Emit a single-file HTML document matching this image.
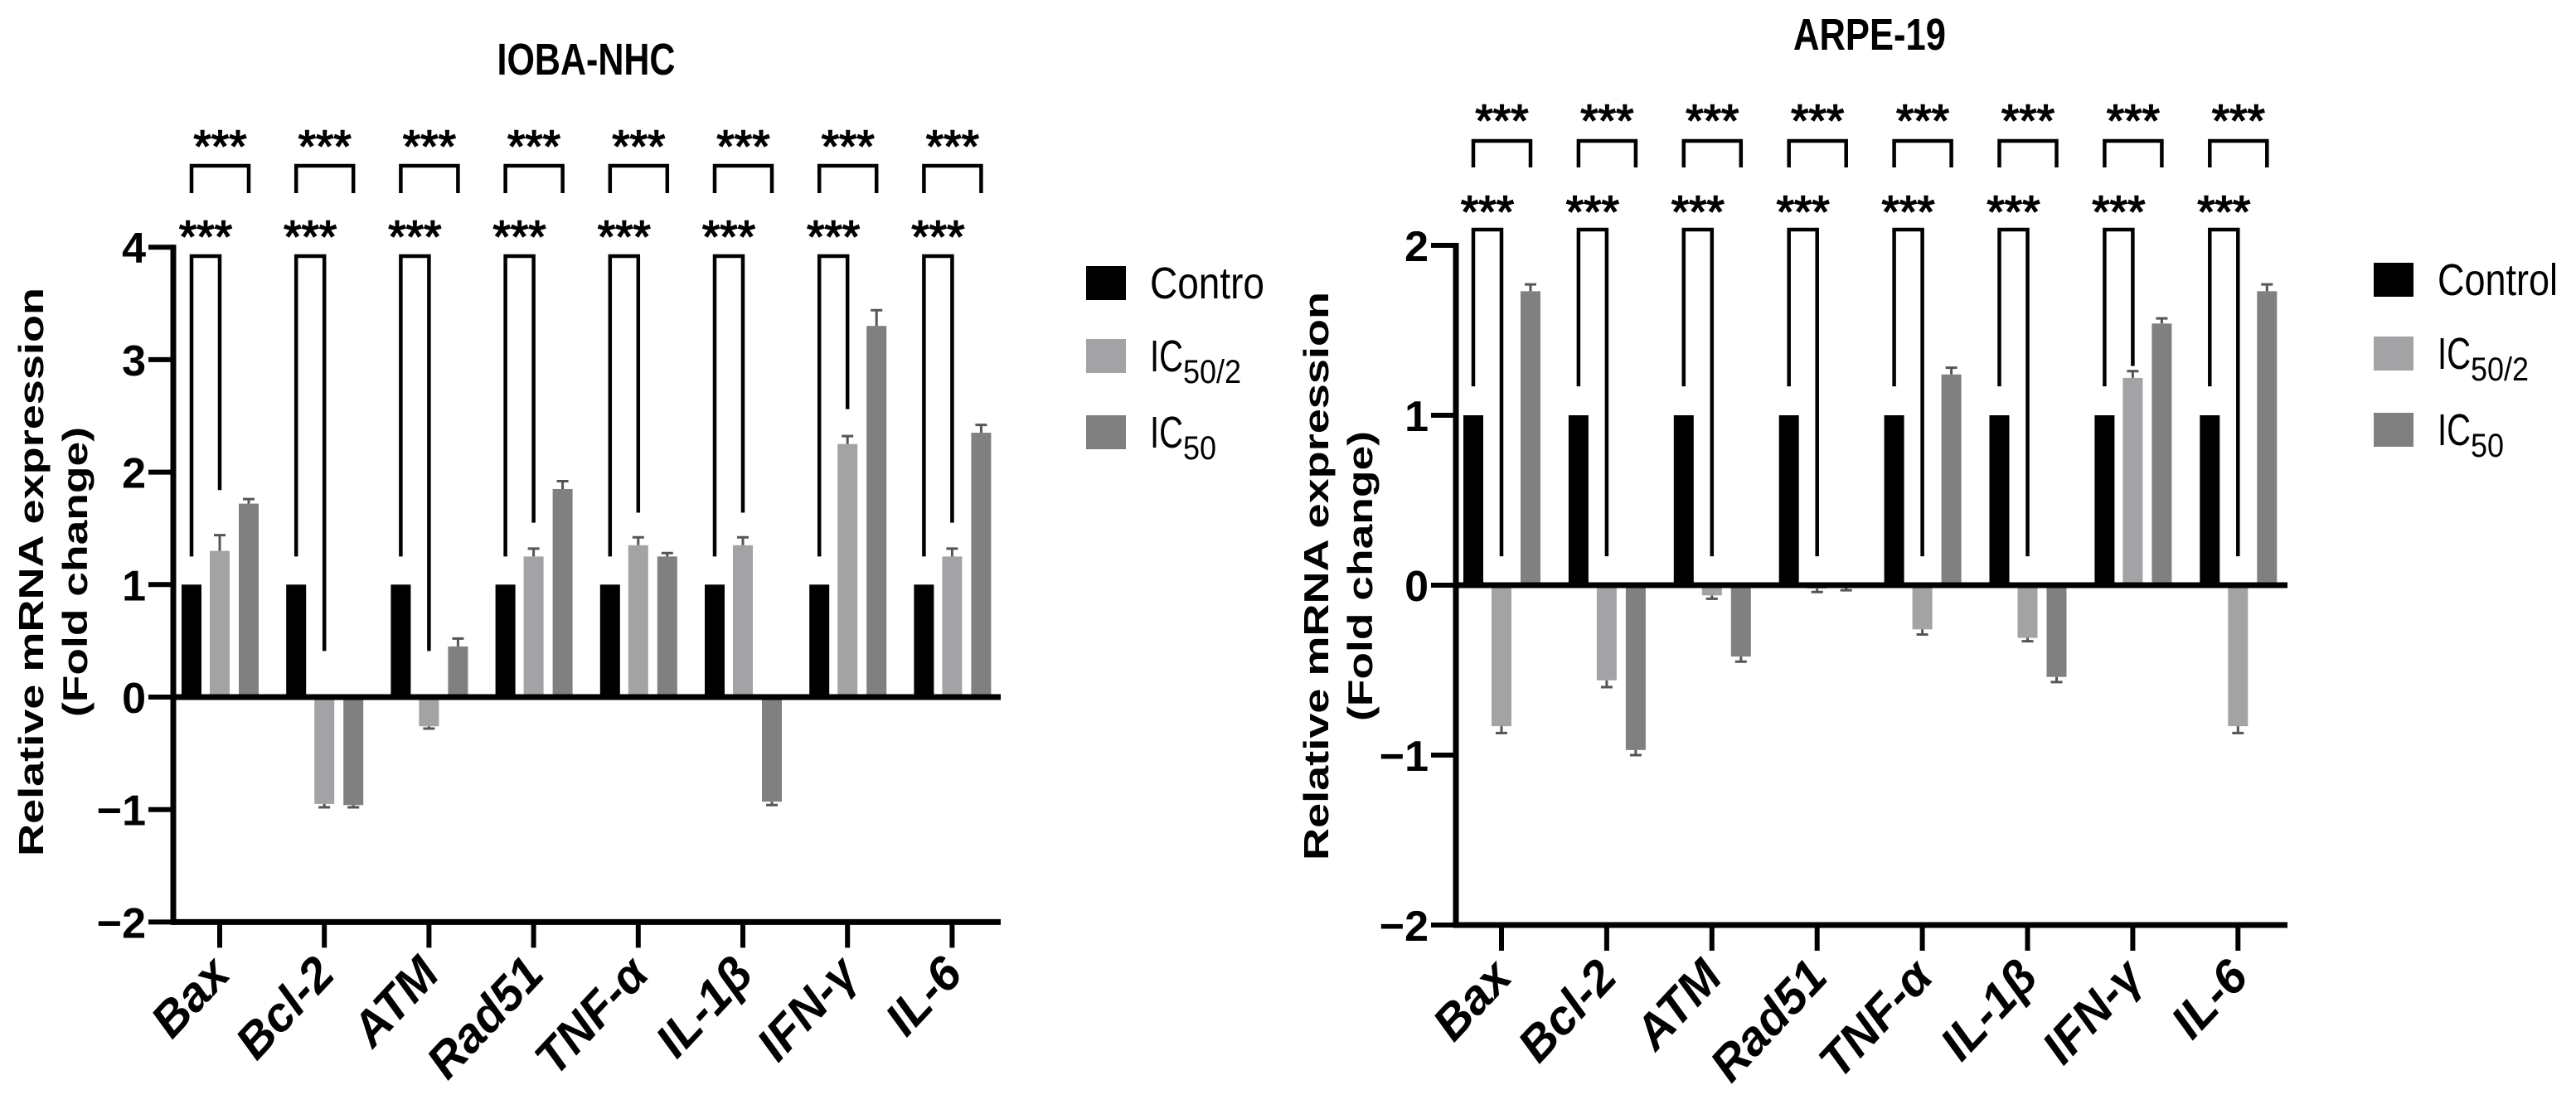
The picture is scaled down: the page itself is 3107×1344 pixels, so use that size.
<!DOCTYPE html>
<html><head><meta charset="utf-8"><style>
html,body{margin:0;padding:0;background:#fff}
svg{display:block}
text{font-family:"Liberation Sans",Arial,sans-serif}
</style></head><body>
<svg id="fig" width="3107" height="1344" viewBox="0 0 3107 1344" xmlns="http://www.w3.org/2000/svg"></svg>
<script>
const categories = ["Bax","Bcl-2","ATM","Rad51","TNF-α","IL-1β","IFN-γ","IL-6"];
const yTicksLeft = [-2,-1,0,1,2,3,4];
const yTicksRight = [-2,-1,0,1,2];
const leftControl = [1,1,1,1,1,1,1,1];
const leftIC2 = [1.30,-0.95,-0.26,1.25,1.35,1.35,2.25,1.25];
const leftIC2Err = [0.14,0.03,0.02,0.07,0.07,0.07,0.07,0.07];
const leftIC50 = [1.72,-0.96,0.45,1.85,1.25,-0.93,3.30,2.35];
const leftIC50Err = [0.04,0.02,0.07,0.07,0.03,0.03,0.14,0.07];
const leftLegEnd = [1.84,0.41,0.41,1.55,1.64,1.64,2.56,1.55];
const rightControl = [1,1,1,1,1,1,1,1];
const rightIC2 = [-0.83,-0.56,-0.06,-0.02,-0.26,-0.31,1.22,-0.83];
const rightIC2Err = [0.04,0.04,0.02,0.02,0.03,0.02,0.04,0.04];
const rightIC50 = [1.73,-0.97,-0.42,-0.01,1.24,-0.54,1.54,1.73];
const rightIC50Err = [0.04,0.03,0.03,0.02,0.04,0.03,0.03,0.04];
const rightLegEnd = [0.17,0.17,0.17,0.17,0.17,0.17,1.29,0.17];

const NS="http://www.w3.org/2000/svg";
const svg=document.getElementById('fig');
function mk(tag,attrs,parent){const e=document.createElementNS(NS,tag);for(const k in attrs)e.setAttribute(k,attrs[k]);(parent||svg).appendChild(e);return e;}
const COL=["#000000","#a3a3a6","#808080"];

function chart(cfg){
  const g=mk('g',{});
  
  
  const y=v=>cfg.y0-v*cfg.unit;
  const xc=i=>cfg.x0+i*cfg.step;
  const t=mk('text',{x:cfg.titleX,y:cfg.titleY,'text-anchor':'middle','font-size':54,'font-weight':'bold',textLength:cfg.titleW,lengthAdjust:'spacingAndGlyphs'},g);
  t.textContent=cfg.title;
  
  
  const series=[cfg.ctrl,cfg.ic2,cfg.ic50];
  const errs=[null,cfg.ic2e,cfg.ic50e];
  const offs=[-34,0,35];
  categories.forEach((c,i)=>{
    series.forEach((s,k)=>{
      const v=s[i];const bx=xc(i)+offs[k]-12;
      const r=mk('rect',{x:bx,y:Math.min(y(v),y(0)),width:24,height:Math.abs(y(v)-y(0)),fill:COL[k]},g);
      
      
      if(errs[k]){
        const e=errs[k][i];const sign=v>=0?1:-1;const ye=y(v+sign*e);
        const cx=xc(i)+offs[k];
        const l=mk('path',{d:`M${cx},${y(v)}L${cx},${ye}M${cx-7},${ye}L${cx+7},${ye}`,stroke:'#555',"stroke-width":3,fill:'none'},g);
        
        
      }
    });
    const a=xc(i)+offs[0], b=xc(i)+offs[1], d=xc(i)+offs[2];
    const top=mk('path',{d:`M${a},${cfg.topLeg}L${a},${cfg.topBr}L${d},${cfg.topBr}L${d},${cfg.topLeg}`,stroke:'#000',"stroke-width":4.5,fill:'none'},g);
    
    
    const low=mk('path',{d:`M${a},${y(cfg.leftLeg)}L${a},${cfg.lowBr}L${b},${cfg.lowBr}L${b},${y(cfg.legEnd[i])}`,stroke:'#000',"stroke-width":4.5,fill:'none'},g);
    
    
    const s1=mk('text',{x:(a+d)/2,y:cfg.topStar+29,'text-anchor':'middle','font-size':55,stroke:'#000','stroke-width':1.5},g);
    s1.textContent='***';
    
    
    const s2=mk('text',{x:(a+b)/2,y:cfg.lowStar+29,'text-anchor':'middle','font-size':55,stroke:'#000','stroke-width':1.5},g);
    s2.textContent='***';
    
    
    const tk=mk('line',{x1:xc(i),x2:xc(i),y1:y(cfg.ymin),y2:y(cfg.ymin)+31,stroke:'#000',"stroke-width":6},g);
    
    
    const lx=xc(i)+15, ly=y(cfg.ymin)+65;
    const lb=mk('text',{x:0,y:0,'text-anchor':'end','font-size':58,'font-weight':'bold','font-style':'italic',transform:`translate(${lx},${ly}) rotate(-47)`},g);
    lb.textContent=c;
    
    
  });
  const ya=mk('line',{x1:cfg.axX,x2:cfg.axX,y1:y(cfg.ymax)-3,y2:y(cfg.ymin)+3.5,stroke:'#000',"stroke-width":7},g);
  
  
  const z=mk('line',{x1:cfg.axX,x2:cfg.axEnd,y1:y(0),y2:y(0),stroke:'#000',"stroke-width":7},g);
  
  
  const xa=mk('line',{x1:cfg.axX,x2:cfg.axEnd,y1:y(cfg.ymin),y2:y(cfg.ymin),stroke:'#000',"stroke-width":7},g);
  
  
  cfg.ticks.forEach(v=>{
    const l=mk('line',{x1:cfg.axX-30,x2:cfg.axX,y1:y(v),y2:y(v),stroke:'#000',"stroke-width":6},g);
    
    
    const tt=mk('text',{x:cfg.axX-33,y:y(v)+19,'text-anchor':'end','font-size':52,'font-weight':'bold'},g);
    tt.textContent=v<0?'\u2212'+(-v):String(v);
    
    
  });
  const yt1=mk('text',{x:0,y:0,'text-anchor':'middle','font-size':42,'font-weight':'bold',textLength:686,lengthAdjust:'spacingAndGlyphs',transform:`translate(${cfg.ytX1+15},${cfg.ytY}) rotate(-90)`},g);
  yt1.textContent='Relative mRNA expression';
  
  
  const yt2=mk('text',{x:0,y:0,'text-anchor':'middle','font-size':42,'font-weight':'bold',textLength:350,lengthAdjust:'spacingAndGlyphs',transform:`translate(${cfg.ytX2+15},${cfg.ytY}) rotate(-90)`},g);
  yt2.textContent='(Fold change)';
  
  
  const labs=[[cfg.ctrlLabel,''],['IC','50/2'],['IC','50']];
  labs.forEach((L,k)=>{
    const cy=cfg.legY[k];
    const r=mk('rect',{x:cfg.legX,y:cy-20,width:48,height:41,fill:COL[k]},g);
    
    
    const tx=mk('text',{x:cfg.legX+77,y:cy+19,'font-size':54},g);
    
    
    const t1=mk('tspan',{textLength:k==0?cfg.ctrlW:40,lengthAdjust:'spacingAndGlyphs'},tx);t1.textContent=L[0];
    if(L[1]){const t2=mk('tspan',{dy:14,'font-size':40,textLength:k==1?70:40,lengthAdjust:'spacingAndGlyphs'},tx);t2.textContent=L[1];}
  });
}
chart({name:'ioba-nhc-chart',title:'IOBA-NHC',titleX:707,titleY:90,titleW:215,
  ctrl:leftControl,ic2:leftIC2,ic2e:leftIC2Err,ic50:leftIC50,ic50e:leftIC50Err,legEnd:leftLegEnd,leftLeg:1.25,
  y0:841,unit:135.7,ymin:-2,ymax:4,ticks:yTicksLeft,x0:265,step:126.2,axX:209,axEnd:1207,
  topStar:166,topBr:200,topLeg:233,lowStar:275,lowBr:309,
  ytX1:37,ytX2:90,ytY:690,legX:1310,legY:[341,429,521],ctrlLabel:'Contro',ctrlW:138});
chart({name:'arpe-19-chart',title:'ARPE-19',titleX:2255,titleY:60,titleW:184,
  ctrl:rightControl,ic2:rightIC2,ic2e:rightIC2Err,ic50:rightIC50,ic50e:rightIC50Err,legEnd:rightLegEnd,leftLeg:1.17,
  y0:706,unit:205,ymin:-2,ymax:2,ticks:yTicksRight,x0:1811,step:126.9,axX:1756,axEnd:2759,
  topStar:135,topBr:170,topLeg:202,lowStar:245,lowBr:277,
  ytX1:1587,ytX2:1640,ytY:695,legX:2863,legY:[337,426,518],ctrlLabel:'Control',ctrlW:145});
</script>
</body></html>
